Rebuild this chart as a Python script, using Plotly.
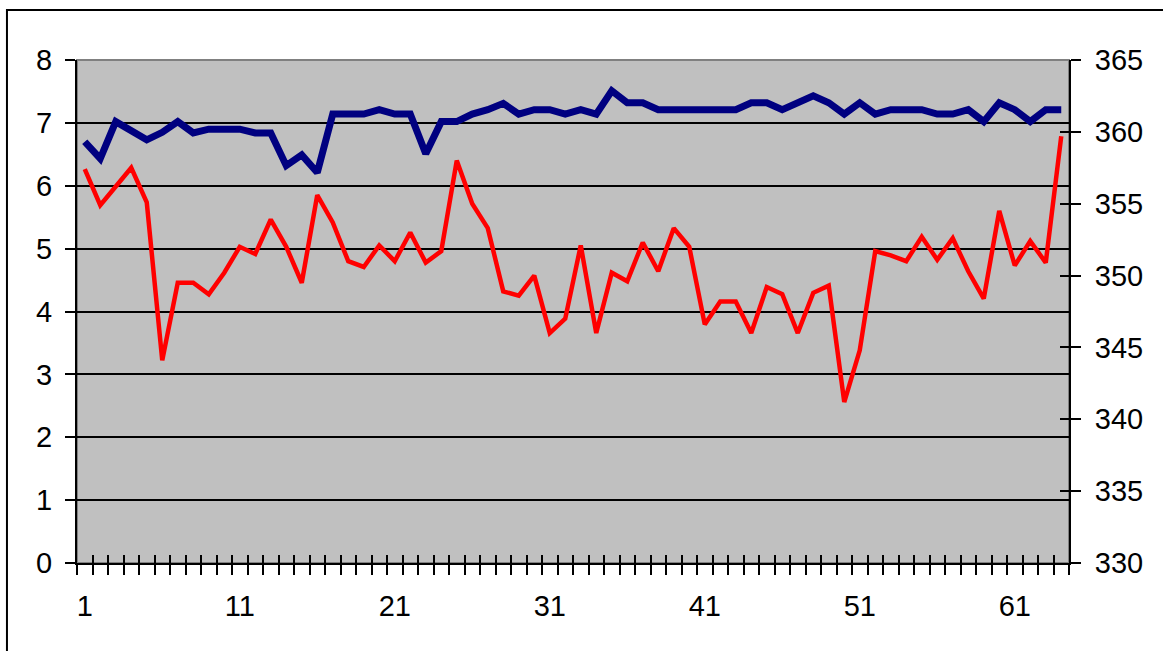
import plotly.graph_objects as go

categories = list(range(1, 65))

blue_values = [6.70, 6.43, 7.02, 6.86, 6.73, 6.85, 7.02, 6.84, 6.90, 6.90,
               6.90, 6.84, 6.84, 6.32, 6.49, 6.21, 7.14, 7.14, 7.14, 7.21,
               7.14, 7.14, 6.51, 7.02, 7.02, 7.14, 7.21, 7.31, 7.14, 7.21,
               7.21, 7.14, 7.21, 7.14, 7.51, 7.32, 7.32, 7.21, 7.21, 7.21,
               7.21, 7.21, 7.21, 7.32, 7.32, 7.21, 7.32, 7.43, 7.32, 7.14,
               7.32, 7.14, 7.21, 7.21, 7.21, 7.14, 7.14, 7.21, 7.02, 7.32,
               7.21, 7.02, 7.21, 7.21]

red_values = [357.4, 354.9, 356.2, 357.5, 355.1, 344.1, 349.5, 349.5, 348.7, 350.2,
              352.0, 351.5, 353.9, 352.0, 349.5, 355.6, 353.7, 351.0, 350.6, 352.1,
              351.0, 353.0, 350.9, 351.7, 358.0, 355.0, 353.3, 348.9, 348.6, 350.0,
              346.0, 347.0, 352.1, 346.0, 350.2, 349.6, 352.3, 350.3, 353.3, 352.0,
              346.6, 348.2, 348.2, 346.0, 349.2, 348.7, 346.0, 348.8, 349.3, 341.2,
              344.8, 351.7, 351.4, 351.0, 352.7, 351.1, 352.6, 350.3, 348.4, 354.5,
              350.7, 352.4, 350.9, 359.7]

x_label_values = [1, 11, 21, 31, 41, 51, 61]
left_ticks = [0, 1, 2, 3, 4, 5, 6, 7, 8]
right_ticks = [330, 335, 340, 345, 350, 355, 360, 365]

FONT = "Arial, Liberation Sans, sans-serif"
FS = 29

boundaries = [c - 0.5 for c in categories] + [categories[-1] + 0.5]
xrange = [categories[0] - 0.5, categories[-1] + 0.5]

fig = go.Figure()
fig.add_trace(go.Scatter(x=categories, y=blue_values, mode="lines",
                         line=dict(color="#000080", width=7),
                         xaxis="x", yaxis="y", showlegend=False))
fig.add_trace(go.Scatter(x=categories, y=red_values, mode="lines",
                         line=dict(color="#FF0000", width=4.5),
                         xaxis="x", yaxis="y2", showlegend=False))
# invisible helpers for overlay axes
for xa, ya in [("x2", "y"), ("x3", "y"), ("x", "y3"), ("x", "y4")]:
    fig.add_trace(go.Scatter(x=[None], y=[None], xaxis=xa, yaxis=ya,
                             showlegend=False, hoverinfo="skip"))

common_x = dict(range=xrange, showgrid=False, zeroline=False)

fig.update_layout(
    width=1163, height=651, autosize=False,
    margin=dict(l=77, r=94, t=60, b=88, pad=0),
    paper_bgcolor="white", plot_bgcolor="#C0C0C0",
    font=dict(family=FONT, size=FS, color="black"),
    xaxis=dict(**common_x, tickmode="array", tickvals=boundaries,
               ticks="outside", ticklen=10, tickwidth=2, tickcolor="black",
               showticklabels=False, showline=True, linecolor="black", linewidth=2),
    xaxis2=dict(**common_x, overlaying="x", anchor="y", tickmode="array",
                tickvals=boundaries, ticks="inside", ticklen=8, tickwidth=2,
                tickcolor="black", showticklabels=False, showline=False),
    xaxis3=dict(**common_x, overlaying="x", anchor="y", tickmode="array",
                tickvals=x_label_values, ticktext=[str(v) for v in x_label_values],
                ticks="outside", ticklen=10, tickcolor="rgba(0,0,0,0)",
                ticklabelstandoff=7, showline=False,
                tickfont=dict(family=FONT, size=FS, color="black")),
    yaxis=dict(range=[0, 8], tickmode="array", tickvals=left_ticks,
               ticks="outside", ticklen=10, tickwidth=2, tickcolor="black",
               showline=True, linecolor="black", linewidth=2,
               showgrid=False, zeroline=False, ticklabelstandoff=7,
               tickfont=dict(family=FONT, size=FS, color="black")),
    yaxis3=dict(range=[0, 8], overlaying="y", anchor="x", tickmode="array",
                tickvals=left_ticks[:-1], ticks="inside", ticklen=9, tickwidth=2,
                tickcolor="black", showticklabels=False, showline=False,
                showgrid=True, gridcolor="black", gridwidth=2, zeroline=False),
    yaxis2=dict(range=[330, 365], overlaying="y", side="right", anchor="x",
                tickmode="array", tickvals=right_ticks,
                ticks="outside", ticklen=10, tickwidth=2, tickcolor="black",
                showline=True, linecolor="black", linewidth=2,
                showgrid=False, zeroline=False, ticklabelstandoff=8,
                tickfont=dict(family=FONT, size=FS, color="black")),
    yaxis4=dict(range=[330, 365], overlaying="y", side="right", anchor="x",
                tickmode="array", tickvals=right_ticks, ticks="inside",
                ticklen=9, tickwidth=2, tickcolor="black", showticklabels=False,
                showline=False, showgrid=False, zeroline=False),
    shapes=[
        dict(type="rect", xref="paper", yref="paper", x0=0, x1=1, y0=0, y1=1,
             line=dict(color="#808080", width=2), layer="below"),
        dict(type="rect", xref="paper", yref="paper", x0=-0.0706, x1=1.3,
             y0=-0.3, y1=1.0994, line=dict(color="black", width=2), layer="above"),
    ],
)

fig.write_html("out.html", config={"displayModeBar": False},
               post_script="document.body.style.margin='0';document.body.style.overflow='hidden';")
